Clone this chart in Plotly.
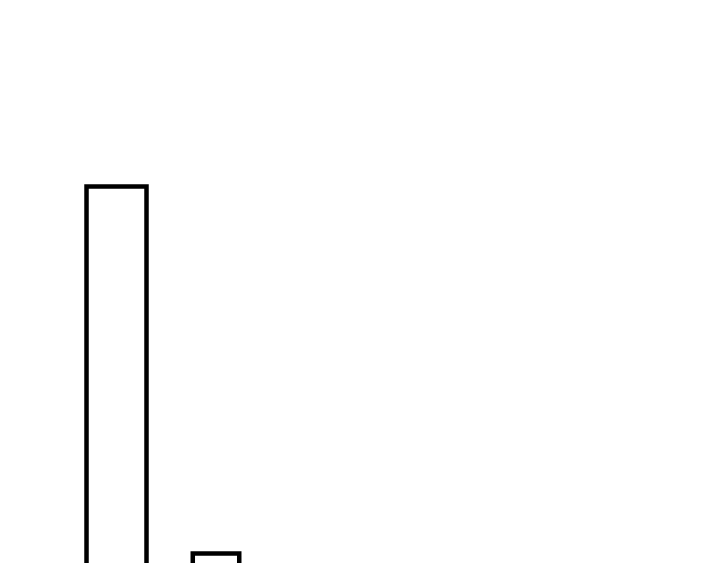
import plotly.graph_objects as go

# two outlined bars, the chart is cut off at the bottom edge
categories = ["A", "B"]
values = [413.5, 46.5]

fig = go.Figure()
fig.add_trace(go.Bar(
    x=categories, y=values,
    width=[0.603, 0.467],
    marker=dict(color="white", line=dict(color="black", width=4.5)),
))

fig.update_layout(
    width=720, height=563,
    margin=dict(l=0, r=0, t=0, b=0),
    paper_bgcolor="white", plot_bgcolor="white",
    showlegend=False,
)
# page body has an 8px margin, so the ranges are shifted to compensate
fig.update_xaxes(visible=False, range=[-1.0905, 6.1457])
fig.update_yaxes(visible=False, range=[29, 592])

fig.write_html("out.html")
